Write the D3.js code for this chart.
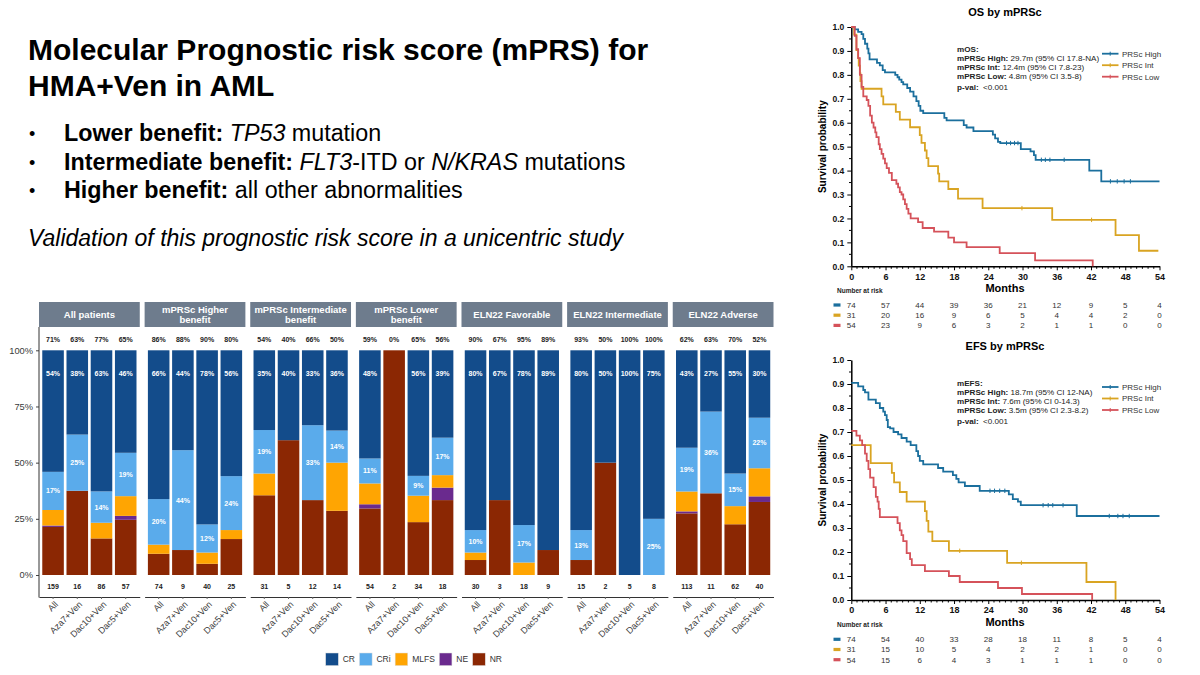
<!DOCTYPE html>
<html><head><meta charset="utf-8">
<script src="https://cdn.jsdelivr.net/npm/d3@7"></script>
<style>
body{margin:0;background:#fff}
svg{display:block;font-family:"Liberation Sans",Arial,Helvetica,sans-serif}
</style>
</head><body>
<svg id="c" width="1200" height="675"></svg>
<script>
// ---------------- DATA ----------------
const panelTitles = [["All patients"],["mPRSc Higher","benefit"],["mPRSc Intermediate","benefit"],["mPRSc Lower","benefit"],["ELN22 Favorable"],["ELN22 Intermediate"],["ELN22 Adverse"]];
const arms = ["All","Aza7+Ven","Dac10+Ven","Dac5+Ven"];
const responseCats = ["CR","CRi","MLFS","NE","NR"];
const nPatients = [159,16,86,57, 74,9,40,25, 31,5,12,14, 54,2,34,18, 30,3,18,9, 15,2,5,8, 113,11,62,40];
const countCR   = [86,6,54,26, 49,4,31,14, 11,2,4,5, 26,0,19,7, 24,2,14,8, 12,1,5,6, 49,3,34,12];
const countCRi  = [27,4,12,11, 15,4,5,6, 6,0,4,2, 6,0,3,3, 3,0,3,0, 2,0,0,2, 22,4,9,9];
const countMLFS = [11,0,6,5, 3,0,2,1, 3,0,0,3, 5,0,4,1, 1,0,1,0, 0,0,0,0, 10,0,5,5];
const countNE   = [1,0,0,1, 0,0,0,0, 0,0,0,0, 1,0,0,1, 0,0,0,0, 0,0,0,0, 1,0,0,1];
const countNR   = [34,6,14,14, 7,1,2,4, 11,3,4,4, 16,2,8,6, 2,1,0,1, 1,1,0,0, 31,4,14,13];
const barYTicks = [0,0.25,0.5,0.75,1];

// Kaplan-Meier step data [month, survival]
const osHigh = [[0,1],[0.6,0.99],[1.2,0.98],[1.8,0.97],[2.1,0.95],[2.4,0.93],[2.8,0.91],[3.0,0.89],[3.2,0.865],[4.5,0.85],[5.0,0.84],[5.5,0.82],[5.9,0.81],[7.7,0.80],[8.1,0.79],[8.4,0.78],[8.8,0.77],[9.1,0.76],[9.8,0.745],[10.3,0.73],[10.9,0.71],[11.4,0.69],[11.8,0.67],[12.1,0.65],[12.6,0.64],[16.3,0.62],[16.7,0.61],[19.7,0.59],[20.2,0.58],[21.4,0.565],[24.8,0.55],[25.2,0.535],[25.7,0.52],[26.1,0.515],[29.7,0.49],[31.4,0.48],[32.0,0.465],[32.3,0.445],[41.7,0.40],[43.8,0.355],[54,0.355]];
const osInt = [[0,1],[0.5,0.968],[0.9,0.903],[1.2,0.871],[1.3,0.839],[1.5,0.806],[1.6,0.774],[1.8,0.742],[5.3,0.71],[5.6,0.677],[7.8,0.645],[8.5,0.613],[10.3,0.581],[12.0,0.548],[12.3,0.516],[12.9,0.484],[13.2,0.452],[13.5,0.419],[15.2,0.387],[15.4,0.355],[17.0,0.323],[18.7,0.283],[23.0,0.243],[35.2,0.194],[46.3,0.13],[50.4,0.065],[53.8,0.065]];
const osLow = [[0,1],[0.6,0.963],[0.9,0.907],[1.2,0.87],[1.5,0.80],[1.8,0.75],[2.1,0.71],[2.7,0.695],[3.0,0.67],[3.3,0.63],[3.6,0.60],[3.9,0.58],[4.2,0.56],[4.4,0.54],[4.8,0.51],[5.0,0.49],[5.3,0.47],[5.6,0.45],[5.9,0.43],[6.2,0.41],[6.6,0.39],[7.1,0.36],[7.9,0.345],[8.2,0.33],[8.5,0.31],[8.8,0.30],[9.1,0.28],[9.4,0.26],[9.7,0.24],[10.0,0.22],[10.4,0.20],[11.7,0.185],[12.5,0.16],[14.5,0.145],[17.0,0.12],[18.0,0.10],[20.2,0.08],[26.0,0.055],[32.2,0.025],[42.3,0.0]];
const osHighCensor = [27.2,27.9,28.6,29.2,33.3,34.0,34.8,37.3,45.4,46.6,47.8,48.9];
const osIntCensor = [29.9,42.1];
const osLowCensor = [];

const efsHigh = [[0,0.905],[1.2,0.89],[2.1,0.875],[2.4,0.865],[3.0,0.835],[4.3,0.82],[5.0,0.80],[5.6,0.785],[5.9,0.77],[6.2,0.75],[6.4,0.72],[6.8,0.715],[7.4,0.70],[8.2,0.69],[8.8,0.675],[9.7,0.66],[10.4,0.645],[11.4,0.62],[11.7,0.60],[12.0,0.58],[12.6,0.565],[15.2,0.55],[16.1,0.535],[17.8,0.52],[18.4,0.505],[18.8,0.49],[19.9,0.475],[22.5,0.455],[27.6,0.44],[28.3,0.42],[29.2,0.41],[29.7,0.395],[39.5,0.35],[54,0.35]];
const efsInt = [[0,0.645],[3.4,0.57],[7.1,0.53],[7.5,0.49],[8.5,0.45],[9.7,0.41],[12.9,0.37],[13.2,0.33],[13.5,0.285],[14.2,0.245],[17.1,0.205],[27.3,0.155],[41.2,0.075],[46.3,0.0]];
const efsLow = [[0,0.705],[0.9,0.685],[1.5,0.665],[1.9,0.645],[2.4,0.61],[2.7,0.58],[3.0,0.545],[3.3,0.51],[3.9,0.47],[4.3,0.43],[4.6,0.41],[4.8,0.38],[5.0,0.345],[8.1,0.32],[8.5,0.29],[8.8,0.27],[9.1,0.245],[9.7,0.195],[10.3,0.17],[10.6,0.145],[12.9,0.12],[17.1,0.10],[19.0,0.075],[25.7,0.05],[29.9,0.025],[42.2,0.0]];
const efsHighCensor = [24.3,25.1,26.0,26.9,33.6,34.5,35.3,37.1,45.2,46.7,47.6,48.7];
const efsIntCensor = [19.0,29.8];
const efsLowCensor = [];

const riskTimes = [0,6,12,18,24,30,36,42,48,54];
const osRiskHigh = [74,57,44,39,36,21,12,9,5,4];
const osRiskInt  = [31,20,16,9,6,5,4,4,2,0];
const osRiskLow  = [54,23,9,6,3,2,1,1,0,0];
const efsRiskHigh = [74,54,40,33,28,18,11,8,5,4];
const efsRiskInt  = [31,15,10,5,4,2,2,1,0,0];
const efsRiskLow  = [54,15,6,4,3,1,1,1,0,0];
const groupNames = ["PRSc High","PRSc Int","PRSc Low"];
const survTicks = [0,0.1,0.2,0.3,0.4,0.5,0.6,0.7,0.8,0.9,1.0];
const monthTicks = [0,6,12,18,24,30,36,42,48,54];

// ---------------- STYLE ----------------
const catColor = {CR:"#134c8b",CRi:"#5aabeb",MLFS:"#ffa502",NE:"#6a2a8e",NR:"#8b2703"};
const kmColor = ["#1b6f9d","#d9a422","#d5525a"];

const svg = d3.select("#c");

// ---------------- SLIDE TEXT ----------------
const txt = svg.append("g").attr("fill","#000");
txt.append("text").attr("x",28).attr("y",60).attr("font-size",30).attr("font-weight","bold").text("Molecular Prognostic risk score (mPRS) for");
txt.append("text").attr("x",28).attr("y",96).attr("font-size",30).attr("font-weight","bold").text("HMA+Ven in AML");
const bullets = [
  [["Lower benefit:","bold","normal"],[" TP53","normal","italic"],[" mutation","normal","normal"]],
  [["Intermediate benefit:","bold","normal"],[" FLT3","normal","italic"],["-ITD or ","normal","normal"],["N/KRAS","normal","italic"],[" mutations","normal","normal"]],
  [["Higher benefit:","bold","normal"],[" all other abnormalities","normal","normal"]]
];
bullets.forEach((b,i)=>{
  const yb = 141 + i*28.5;
  txt.append("text").attr("x",29).attr("y",yb-1).attr("font-size",18).text("•");
  const t = txt.append("text").attr("x",64).attr("y",yb).attr("font-size",23.3).attr("xml:space","preserve");
  b.forEach(s=>t.append("tspan").attr("font-weight",s[1]).attr("font-style",s[2]).text(s[0]));
});
txt.append("text").attr("x",28).attr("y",246).attr("font-size",23).attr("font-style","italic").text("Validation of this prognostic risk score in a unicentric study");

// ---------------- BAR CHART ----------------
function rRound(x){ const f=Math.floor(x); const d=x-f; if(Math.abs(d-0.5)<1e-9) return (f%2===0)?f:f+1; return Math.round(x); }
const rows = nPatients.map((n,i)=>({i, panel:Math.floor(i/4), arm:arms[i%4], n,
  CR:countCR[i]/n, CRi:countCRi[i]/n, MLFS:countMLFS[i]/n, NE:countNE[i]/n, NR:countNR[i]/n,
  cCR:countCR[i], cCRi:countCRi[i]}));
const stackKeys = ["NR","NE","MLFS","CRi","CR"];
const series = d3.stack().keys(stackKeys)(rows);

const yBar = d3.scaleLinear().domain([0,1]).range([575,350.3]);
const xPanel = d3.scaleBand().domain(d3.range(panelTitles.length)).range([39,773.5]).paddingInner(0.046);
const xArm = d3.scaleBand().domain(arms).range([0,xPanel.bandwidth()]).paddingInner(0.11).paddingOuter(0.135);
const barX = d => xPanel(d.panel) + xArm(d.arm);

const bar = svg.append("g");
const strips = bar.selectAll(".strip").data(panelTitles).join("g");
strips.append("rect").attr("x",(d,i)=>xPanel(i)).attr("y",302).attr("width",xPanel.bandwidth()).attr("height",25).attr("fill","#6e7c8d");
strips.each(function(d,i){
  const g = d3.select(this);
  const cx = xPanel(i)+xPanel.bandwidth()/2;
  d.forEach((line,j)=>{
    const yy = d.length===1 ? 317.8 : 312.8 + j*10;
    g.append("text").attr("x",cx).attr("y",yy).attr("text-anchor","middle").attr("font-size",9.5).attr("font-weight","bold").attr("fill","#fff").text(line);
  });
});
series.forEach(s=>{
  bar.append("g").selectAll("rect").data(s).join("rect")
    .attr("x",d=>barX(d.data)).attr("width",xArm.bandwidth())
    .attr("y",d=>yBar(d[1])).attr("height",d=>Math.max(0,yBar(d[0])-yBar(d[1])))
    .attr("fill",catColor[s.key]);
});
const lab = bar.append("g").attr("font-weight","bold").attr("text-anchor","middle");
rows.forEach(d=>{
  const cx = barX(d)+xArm.bandwidth()/2;
  const pCR = rRound(100*d.CR), pCRi = rRound(100*d.CRi);
  lab.append("text").attr("x",cx).attr("y",342).attr("font-size",7).attr("fill","#222").text((pCR+pCRi)+"%");
  lab.append("text").attr("x",cx).attr("y",588.5).attr("font-size",7).attr("fill","#222").text(d.n);
  if(d.cCR>0) lab.append("text").attr("x",cx).attr("y",375.5).attr("font-size",7).attr("fill","#fff").text(pCR+"%");
  if(d.cCRi>0){
    const lo = d.NR+d.NE+d.MLFS, hi = lo+d.CRi;
    lab.append("text").attr("x",cx).attr("y",yBar((lo+hi)/2)+2.5).attr("font-size",7).attr("fill","#fff").text(pCRi+"%");
  }
});
const yAx = bar.append("g").attr("transform","translate(39,0)")
  .call(d3.axisLeft(yBar).tickValues(barYTicks).tickFormat(d3.format(".0%")).tickSize(3));
yAx.select(".domain").remove();
yAx.selectAll("text").attr("font-size",9.3).attr("fill","#3a3a3a").attr("font-family","Liberation Sans, Arial, sans-serif");
yAx.selectAll("line").attr("stroke","#444");
bar.append("line").attr("x1",39).attr("x2",39).attr("y1",327).attr("y2",597.5).attr("stroke","#333").attr("stroke-width",1);
panelTitles.forEach((p,i)=>{
  const g = bar.append("g").attr("transform",`translate(${xPanel(i)},597)`);
  g.call(d3.axisBottom(xArm).tickSize(2).tickSizeOuter(0));
  g.select(".domain").attr("stroke","#333");
  g.selectAll(".tick line").attr("stroke","#666");
  g.selectAll("text").attr("font-size",9).attr("fill","#3a3a3a").attr("font-family","Liberation Sans, Arial, sans-serif")
    .attr("text-anchor","end").attr("dy",0).attr("y",0)
    .attr("transform","translate(5.5,8) rotate(-45)");
});
const leg = bar.append("g");
let lx = 325.7;
responseCats.forEach(c=>{
  leg.append("rect").attr("x",lx).attr("y",653).attr("width",12.6).attr("height",12.6).attr("fill",catColor[c]).attr("stroke","#ddd").attr("stroke-width",0.5);
  const t = leg.append("text").attr("x",lx+17).attr("y",662.3).attr("font-size",8.5).attr("fill","#333").text(c);
  lx = lx + 17 + t.node().getComputedTextLength() + 4.5;
});

// ---------------- KM CHARTS ----------------
function survAt(data,t){ let s=data[0][1]; data.forEach(p=>{ if(p[0]<=t) s=p[1]; }); return s; }

function drawKM(o){
  const g = svg.append("g");
  const x = d3.scaleLinear().domain([0,54]).range([851.3,1159.5]);
  const y = d3.scaleLinear().domain([0,1]).range([o.bottom,o.top]);
  g.append("text").attr("x",1005).attr("y",o.titleY).attr("text-anchor","middle").attr("font-size",11).attr("font-weight","bold").text(o.title);
  g.append("text").attr("transform",`translate(826,${(o.top+o.bottom)/2}) rotate(-90)`).attr("text-anchor","middle")
    .attr("font-size",10).attr("font-weight","bold").text("Survival probability");
  const minorY = d3.range(0.05,1,0.1);
  g.append("g").selectAll("line").data(minorY).join("line").attr("x1",849).attr("x2",851.3).attr("y1",d=>y(d)).attr("y2",d=>y(d)).attr("stroke","#000");
  const minorX = d3.range(0,55,1).filter(m=>m%6!==0);
  g.append("g").selectAll("line").data(minorX).join("line").attr("x1",d=>x(d)).attr("x2",d=>x(d)).attr("y1",o.bottom).attr("y2",o.bottom+2.5).attr("stroke","#000");
  const ya = g.append("g").attr("transform","translate(851.3,0)").call(d3.axisLeft(y).tickValues(survTicks).tickFormat(d3.format(".1f")).tickSize(4).tickSizeOuter(0));
  ya.selectAll("text").attr("font-size",8.5).attr("font-weight","bold").attr("font-family","Liberation Sans, Arial, sans-serif").attr("fill","#111");
  ya.select(".domain").attr("stroke-width",1.5);
  const xa = g.append("g").attr("transform",`translate(0,${o.bottom})`).call(d3.axisBottom(x).tickValues(monthTicks).tickFormat(d3.format("d")).tickSize(4).tickSizeOuter(0));
  xa.selectAll("text").attr("font-size",9).attr("font-weight","bold").attr("font-family","Liberation Sans, Arial, sans-serif").attr("fill","#111");
  xa.select(".domain").attr("stroke-width",1.5);
  g.append("text").attr("x",1005).attr("y",o.bottom+26).attr("text-anchor","middle").attr("font-size",11).attr("font-weight","bold").text("Months");
  const line = d3.line().x(d=>x(d[0])).y(d=>y(d[1])).curve(d3.curveStepAfter);
  o.curves.forEach((c,k)=>{
    g.append("path").attr("d",line(c.data)).attr("fill","none").attr("stroke",kmColor[k]).attr("stroke-width",1.8);
    g.append("g").selectAll("line").data(c.censor).join("line")
      .attr("x1",d=>x(d)).attr("x2",d=>x(d)).attr("y1",d=>y(survAt(c.data,d))-2.2).attr("y2",d=>y(survAt(c.data,d))+2.2)
      .attr("stroke",kmColor[k]).attr("stroke-width",1);
  });
  const an = g.append("g").attr("font-size",8.1).attr("fill","#222");
  o.anno.forEach((a,j)=>{
    const t = an.append("text").attr("x",957).attr("y",o.annoTop+j*(j===4?9.6:9.1)+2.8).attr("xml:space","preserve");
    t.append("tspan").attr("font-weight","bold").text(a[0]);
    t.append("tspan").text(a[1]);
  });
  groupNames.forEach((nm,k)=>{
    const yy = o.legendTop + k*11.5;
    g.append("line").attr("x1",1102).attr("x2",1118.5).attr("y1",yy).attr("y2",yy).attr("stroke",kmColor[k]).attr("stroke-width",1.8);
    g.append("line").attr("x1",1110.2).attr("x2",1110.2).attr("y1",yy-2).attr("y2",yy+2).attr("stroke",kmColor[k]).attr("stroke-width",1);
    g.append("text").attr("x",1122).attr("y",yy+2.8).attr("font-size",8).attr("fill","#333").text(nm);
  });
  g.append("text").attr("x",837).attr("y",o.bottom+27).attr("font-size",6.5).attr("font-weight","bold").attr("fill","#222").text("Number at risk");
  o.curves.forEach((c,k)=>{
    const yy = o.riskTop + k*10.2;
    g.append("rect").attr("x",833.5).attr("y",yy-1.6).attr("width",7).attr("height",3.2).attr("fill",kmColor[k]);
    g.append("g").selectAll("text").data(c.risk).join("text")
      .attr("x",(d,i)=>x(riskTimes[i])).attr("y",yy+2.8).attr("text-anchor","middle").attr("font-size",8).attr("fill","#333").text(d=>d);
  });
}

drawKM({top:27,bottom:266.3,title:"OS by mPRSc",titleY:16,annoTop:49,legendTop:53.7,riskTop:305,
  anno:[["mOS:",""],["mPRSc High:"," 29.7m (95% CI 17.8-NA)"],["mPRSc Int:"," 12.4m (95% CI 7.8-23)"],["mPRSc Low:"," 4.8m (95% CI 3.5-8)"],["p-val:","  <0.001"]],
  curves:[{data:osHigh,censor:osHighCensor,risk:osRiskHigh},{data:osInt,censor:osIntCensor,risk:osRiskInt},{data:osLow,censor:osLowCensor,risk:osRiskLow}]});
drawKM({top:360,bottom:600,title:"EFS by mPRSc",titleY:349.5,annoTop:382.7,legendTop:387,riskTop:639.3,
  anno:[["mEFS:",""],["mPRSc High:"," 18.7m (95% CI 12-NA)"],["mPRSc Int:"," 7.6m (95% CI 0-14.3)"],["mPRSc Low:"," 3.5m (95% CI 2.3-8.2)"],["p-val:","  <0.001"]],
  curves:[{data:efsHigh,censor:efsHighCensor,risk:efsRiskHigh},{data:efsInt,censor:efsIntCensor,risk:efsRiskInt},{data:efsLow,censor:efsLowCensor,risk:efsRiskLow}]});
</script>
</body></html>
